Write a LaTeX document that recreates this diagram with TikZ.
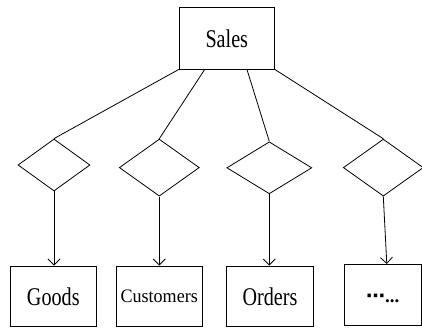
\documentclass[tikz,border=0pt]{standalone}
\usepackage{fontspec}
\setmainfont{Liberation Serif}
\newfontfamily\bigserif[FakeStretch=0.79]{Liberation Serif}
\newfontfamily\smallserif[FakeStretch=0.95]{Liberation Serif}
\newfontfamily\dvs{DejaVu Sans}
\usetikzlibrary{shapes.geometric,arrows.meta,calc}
\begin{document}
\begin{tikzpicture}[x=1pt,y=-1pt,
  ent/.style={draw, line width=0.8pt, inner sep=0pt, minimum height=60.7pt,
    font=\bigserif\fontsize{25.5}{30}\selectfont},
  rel/.style={draw, diamond, line width=0.8pt, inner sep=0pt},
  link/.style={line width=0.8pt},
  arr/.style={line width=0.8pt, -{Straight Barb[length=6pt,width=12pt]}}]
\clip (0,0) rectangle (422,327);
\node[ent, minimum width=95pt, minimum height=61.3pt] (sales) at (226.8,38.3) {Sales};
\node[rel, minimum width=72pt, minimum height=52pt] (d1) at (54,165) {};
\node[rel, minimum width=80pt, minimum height=57pt] (d2) at (159.3,167.6) {};
\node[rel, minimum width=85pt, minimum height=52pt] (d3) at (269.3,167.8) {};
\node[rel, minimum width=80pt, minimum height=57pt] (d4) at (383.3,167.6) {};
\node[ent, minimum width=86.7pt] (goods) at (53.3,296.3) {Goods};
\node[ent, minimum width=86.3pt, font=\smallserif\fontsize{19}{23}\selectfont] (cust) at (159.2,296.3) {Customers};
\node[ent, minimum width=86.6pt] (orders) at (270,296.3) {Orders};
\node[ent, minimum width=77.7pt, text height=16pt, text depth=0pt,
  font=\bfseries\fontsize{19}{22}\selectfont] (more) at (382.8,294.7) {{\dvs\fontsize{19}{22}\selectfont ⋯}...};
\draw[link] (sales.south west) -- (d1.north);
\draw[link] ($(sales.south west)!0.27!(sales.south east)$) -- (d2.north);
\draw[link] ($(sales.south west)!0.71!(sales.south east)$) -- (d3.north);
\draw[link] (sales.south east) -- (d4.north);
\draw[arr] (d1.south) -- (d1.south |- goods.north);
\draw[arr] (d2.south) -- (d2.south |- cust.north);
\draw[arr] (d3.south) -- (d3.south |- orders.north);
\draw[arr] (d4.south) -- ([xshift=4pt]more.north);
\end{tikzpicture}
\end{document}
